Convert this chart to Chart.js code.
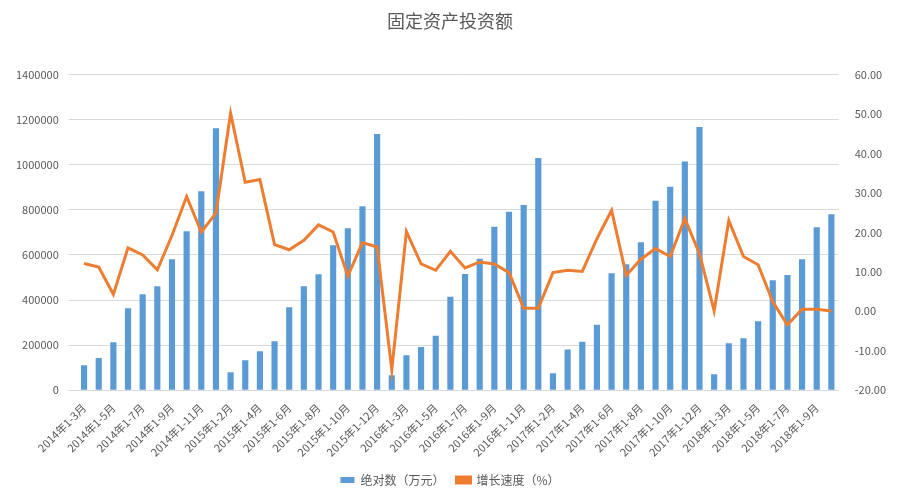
<!DOCTYPE html>
<html><head><meta charset="utf-8">
<script src="https://cdn.jsdelivr.net/npm/chart.js@4/dist/chart.umd.min.js"></script>
<style>html,body{margin:0;padding:0;background:#fff}#w{width:900px;height:500px}</style>
</head><body><div id="w"><canvas id="c" width="900" height="500"></canvas></div>
<script>
const years=[2014,2015,2016,2017,2018];
const monthsPerYear=[
 ['1-3','1-4','1-5','1-6','1-7','1-8','1-9','1-10','1-11','1-12'],
 ['1-2','1-3','1-4','1-5','1-6','1-7','1-8','1-9','1-10','1-11','1-12'],
 ['1-2','1-3','1-4','1-5','1-6','1-7','1-8','1-9','1-10','1-11','1-12'],
 ['1-2','1-3','1-4','1-5','1-6','1-7','1-8','1-9','1-10','1-11','1-12'],
 ['1-2','1-3','1-4','1-5','1-6','1-7','1-8','1-9','1-10']
];
const categories=[];
years.forEach((y,i)=>monthsPerYear[i].forEach(m=>categories.push(y+'年'+m+'月')));
const absolute=[111000,143000,213000,364000,426000,461000,581000,705000,882000,1162000,
 80000,133000,173000,217000,368000,461000,514000,643000,718000,816000,1137000,
 66000,155000,192000,242000,415000,515000,583000,725000,792000,822000,1030000,
 75000,180000,215000,290000,519000,559000,656000,840000,902000,1015000,1168000,
 71000,208000,230000,306000,488000,511000,581000,723000,780000];
const growth=[12.1,11.2,4.3,16.1,14.3,10.5,19.2,29.1,20.1,24.9,
 50.2,32.7,33.4,16.9,15.6,18,21.9,20.1,8.9,17.4,16.3,
 -14.8,20.2,12,10.4,15.2,11,12.5,12,9.8,0.8,0.8,
 9.8,10.4,10.1,18.4,25.6,9.1,13.2,15.9,13.9,23.5,14.6,
 0.1,23,13.9,11.8,2.4,-3.4,0.5,0.5,0.1];
const leftTicks=[0,200000,400000,600000,800000,1000000,1200000,1400000];
const rightTicks=[-20,-10,0,10,20,30,40,50,60];
Chart.defaults.font.family='"Microsoft YaHei","Noto Sans CJK SC",sans-serif';
new Chart(document.getElementById('c'),{
 data:{labels:categories,datasets:[
  {type:'line',label:'增长速度（%）',data:growth,yAxisID:'y1',borderColor:'#ED7D31',backgroundColor:'#ED7D31',borderWidth:3,pointRadius:0,tension:0,order:0},
  {type:'bar',label:'绝对数（万元）',data:absolute,yAxisID:'y',backgroundColor:'#5B9BD5',barPercentage:0.42,categoryPercentage:1,order:1}
 ]},
 options:{responsive:false,animation:false,
  layout:{padding:{left:6,right:6,top:4,bottom:4}},
  plugins:{
   title:{display:true,text:'固定资产投资额',color:'#595959',font:{size:18,weight:'normal'},padding:{top:6,bottom:43}},
   legend:{position:'bottom',reverse:true,labels:{color:'#595959',font:{size:12},boxWidth:14,boxHeight:6,padding:12}},
   tooltip:{enabled:false}
  },
  scales:{
   x:{grid:{display:false},border:{color:'#d9d9d9'},ticks:{color:'#595959',font:{size:11},autoSkip:false,maxRotation:45,minRotation:45,
      callback:function(v,i){return i%2===0?categories[i]:'';}}},
   y:{position:'left',min:0,max:1400000,afterBuildTicks:a=>{a.ticks=leftTicks.map(v=>({value:v}));},
      grid:{color:'#d9d9d9'},border:{display:false},ticks:{color:'#595959',font:{size:11},padding:10,callback:v=>String(v)}},
   y1:{position:'right',min:-20,max:60,afterBuildTicks:a=>{a.ticks=rightTicks.map(v=>({value:v}));},
      grid:{display:false},border:{display:false},ticks:{color:'#595959',font:{size:11},padding:8,callback:v=>v.toFixed(2)}}
  }
 }
});
</script></body></html>
